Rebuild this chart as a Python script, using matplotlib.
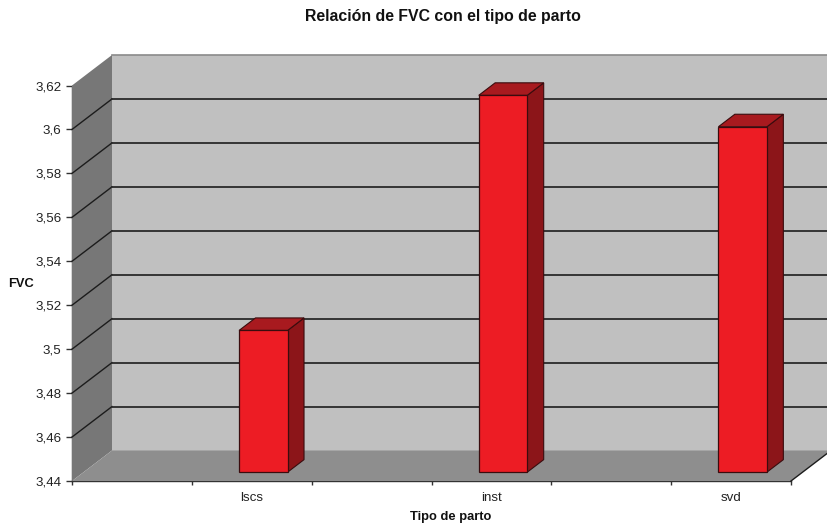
import matplotlib
matplotlib.use('Agg')
import matplotlib.pyplot as plt
from matplotlib.patches import Polygon
from matplotlib.lines import Line2D

plt.rcParams['font.family'] = ['Liberation Sans', 'DejaVu Sans']

categories = ['lscs', 'inst', 'svd']
cat_pos = [1.5, 3.5, 5.5]
fvc = [3.5045, 3.6115, 3.5972]
y_ticks = [3.44, 3.46, 3.48, 3.5, 3.52, 3.54, 3.56, 3.58, 3.6, 3.62]
y_labels = ['3,44', '3,46', '3,48', '3,5', '3,52', '3,54', '3,56', '3,58', '3,6', '3,62']

W, H = 827, 530
fig = plt.figure(figsize=(W / 100, H / 100), dpi=100)
ax = fig.add_axes([72 / W, (H - 481) / H, (791 - 72) / W, (481 - 85.5) / H])
ax.set_xlim(0, 6)
ax.set_ylim(3.44, 3.62)
ax.patch.set_visible(False)

DX, DY = 40, 30.5  # depth of the 3d box in pixels


def px(x, y, d=0.0):
    # data coords + depth fraction -> figure pixels
    p = ax.transData.transform((x, y))
    return (p[0] + d * DX, p[1] + d * DY)


def face(points, color, edge='none', lw=0.0, z=1):
    fig.add_artist(Polygon([px(*p) for p in points], closed=True, facecolor=color, edgecolor=edge,
                           linewidth=lw, transform=None, zorder=z, clip_on=False))


def line(p1, p2, color='#1c1c1c', lw=1.2, z=2):
    a, b = px(*p1), px(*p2)
    fig.add_artist(Line2D([a[0], b[0]], [a[1], b[1]], color=color, linewidth=lw,
                          transform=None, zorder=z, clip_on=False))


y0, y1 = y_ticks[0], y_ticks[-1]
# walls and floor
face([(0, y0, 1), (6, y0, 1), (6, y1, 1), (0, y1, 1)], '#c0c0c0')
face([(0, y0, 0), (0, y0, 1), (0, y1, 1), (0, y1, 0)], '#777777')
face([(0, y0, 0), (6, y0, 0), (6, y0, 1), (0, y0, 1)], '#8e8e8e')
line((0, y1, 1), (6, y1, 1), color='#8a8a8a', lw=1.2)

# gridlines run along the side wall and the back wall
for v in y_ticks[1:-1]:
    line((0, v, 0), (0, v, 1), lw=1.0)
    line((0, v, 1), (6, v, 1), color='#2a2a2a', lw=1.3)
line((6, y0, 0), (6, y0, 1), lw=1.0)

# bars
bar_w = 0.405
d0, d1 = 0.29, 0.70
for x, v in zip(cat_pos, fvc):
    l, r = x - bar_w / 2, x + bar_w / 2
    face([(r, y0, d0), (r, y0, d1), (r, v, d1), (r, v, d0)], '#8c1519', '#3a0c0e', 0.8, 3)
    face([(l, v, d0), (r, v, d0), (r, v, d1), (l, v, d1)], '#a81a1f', '#3a0c0e', 0.8, 3)
    face([(l, y0, d0), (r, y0, d0), (r, v, d0), (l, v, d0)], '#ed1c24', '#3a0c0e', 0.9, 4)

for s in ['top', 'right']:
    ax.spines[s].set_visible(False)
for s in ['left', 'bottom']:
    ax.spines[s].set_color('#333333')
    ax.spines[s].set_linewidth(1.0)
    ax.spines[s].set_zorder(5)

ax.set_yticks(y_ticks)
ax.set_yticklabels(y_labels, fontsize=9.6, color='#222222')
ax.set_xticks(range(7))
ax.set_xticklabels([])
ax.set_xticks(cat_pos, minor=True)
ax.set_xticklabels(categories, minor=True, fontsize=9.6, color='#222222')
ax.tick_params(axis='x', which='minor', length=0, pad=8)
ax.tick_params(axis='x', which='major', length=3, width=1, color='#333333')
ax.tick_params(axis='y', length=4, width=1, color='#333333', pad=3.5)

fig.text(443 / W, (H - 16) / H, 'Relación de FVC con el tipo de parto', fontsize=11.4, fontweight='bold',
         ha='center', va='center', color='#111111')
fig.text(21 / W, (H - 284) / H, 'FVC', fontsize=9.3, fontweight='bold', ha='center', va='center', color='#111111')
fig.text(450.5 / W, (H - 517) / H, 'Tipo de parto', fontsize=9.3, fontweight='bold', ha='center', va='center',
         color='#111111')

fig.savefig('out.png', dpi=100)
